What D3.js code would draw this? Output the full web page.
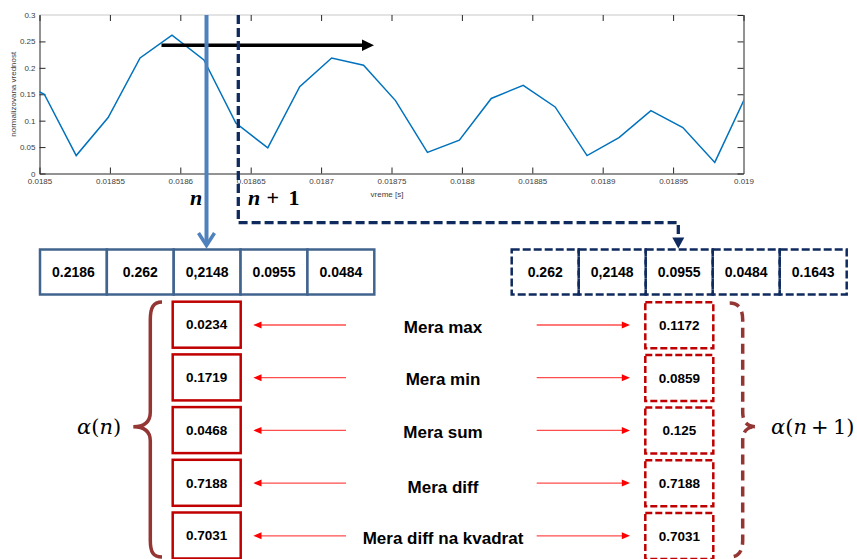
<!DOCTYPE html>
<html><head><meta charset="utf-8">
<script src="https://cdn.jsdelivr.net/npm/d3@7"></script>
<style>body{margin:0;background:#fff}svg{display:block}</style>
</head><body>
<svg id="c" width="857" height="559"></svg>
<script>
// ---- data ----
const sampleRate = 44100;
const sampleIndex = [815,816,817,818,819,820,821,822,823,824,825,826,827,828,829,830,831,832,833,834,835,836,837,838];
const sampleValue = [0.18,0.150,0.034,0.106,0.2186,0.262,0.2148,0.0955,0.0484,0.1643,0.2186,0.205,0.138,0.040,0.063,0.142,0.167,0.126,0.034,0.068,0.119,0.087,0.021,0.150];
const xTicks = [0.0185,0.01855,0.0186,0.01865,0.0187,0.01875,0.0188,0.01885,0.0189,0.01895,0.019];
const yTicks = [0,0.05,0.1,0.15,0.2,0.25,0.3];
const windowN = ["0.2186","0.262","0,2148","0.0955","0.0484"];
const windowN1 = ["0.262","0,2148","0.0955","0.0484","0.1643"];
const measures = ["Mera max","Mera min","Mera sum","Mera diff","Mera diff na kvadrat"];
const alphaN = ["0.0234","0.1719","0.0468","0.7188","0.7031"];
const alphaN1 = ["0.1172","0.0859","0.125","0.7188","0.7031"];

const svg = d3.select("#c");
const L=39.5,R=743.5,T=15,B=173.5;
const x = d3.scaleLinear().domain([0.0185,0.019]).range([L,R]);
const y = d3.scaleLinear().domain([0,0.3]).range([B,T]);
const font = "'Liberation Sans', Arial, sans-serif";
const serif = "'Liberation Serif', 'DejaVu Serif', serif";
const mathf = "'DejaVu Serif', serif";

// plot frame
svg.append("line").attr("x1",L).attr("x2",R).attr("y1",T).attr("y2",T).attr("stroke","#c8c8c8").attr("stroke-width",1);
const gx = svg.append("g").attr("transform",`translate(0,${B})`)
  .call(d3.axisBottom(x).tickValues(xTicks).tickSizeInner(-6).tickSizeOuter(0).tickPadding(5)
    .tickFormat(d=>String(+d.toFixed(5))));
const gxt = svg.append("g").attr("transform",`translate(0,${T})`)
  .call(d3.axisTop(x).tickValues(xTicks).tickSizeInner(-6).tickSizeOuter(0).tickFormat(""));
gxt.select(".domain").remove();
const gy = svg.append("g").attr("transform",`translate(${L},0)`)
  .call(d3.axisLeft(y).tickValues(yTicks).tickSizeInner(-6).tickSizeOuter(0).tickPadding(4)
    .tickFormat(d=>String(+d.toFixed(2))));
const gyr = svg.append("g").attr("transform",`translate(${R},0)`)
  .call(d3.axisRight(y).tickValues(yTicks).tickSizeInner(-6).tickSizeOuter(0).tickFormat(""));
[gx,gxt,gy,gyr].forEach(g=>{
  g.selectAll("path.domain").attr("stroke","#262626");
  g.selectAll(".tick line").attr("stroke","#262626");
  g.selectAll("text").attr("font-family",font).attr("font-size",8).attr("fill","#404040");
});
gx.selectAll(".tick:first-child line").remove();
gx.selectAll(".tick:last-child line").remove();
gy.selectAll(".tick:first-child line").remove();
gy.selectAll(".tick:last-child line").remove();

svg.append("text").attr("x",387).attr("y",197).attr("text-anchor","middle")
  .attr("font-family",font).attr("font-size",8).attr("fill","#404040").text("vreme [s]");
svg.append("text").attr("transform",`translate(16,${(T+B)/2}) rotate(-90)`).attr("text-anchor","middle")
  .attr("font-family",font).attr("font-size",8).attr("fill","#404040").text("normalizovana vrednost");

svg.append("clipPath").attr("id","clip").append("rect").attr("x",L).attr("y",T).attr("width",R-L).attr("height",B-T);
const pts = sampleIndex.map((n,i)=>[n/sampleRate, sampleValue[i]]);
svg.append("path").attr("clip-path","url(#clip)")
  .attr("d", d3.line().x(d=>x(d[0])).y(d=>y(d[1]))(pts))
  .attr("fill","none").attr("stroke","#0072bd").attr("stroke-width",1.5);

// black sliding arrow
svg.append("line").attr("x1",161.5).attr("x2",364).attr("y1",45.3).attr("y2",45.3).attr("stroke","#000").attr("stroke-width",3.5);
svg.append("path").attr("d","M362,39.5 L374,45.3 L362,51.1 Z").attr("fill","#000");

// blue solid arrow (n)
const blue="#4f81bd", navy="#0f2a5e";
svg.append("line").attr("x1",206.5).attr("x2",206.5).attr("y1",T).attr("y2",245).attr("stroke",blue).attr("stroke-width",4);
svg.append("path").attr("d","M198.5,233 L206.5,245.5 L214.5,233").attr("fill","none").attr("stroke",blue).attr("stroke-width",3.5);

// navy dashed arrow (n+1)
svg.append("path").attr("d","M238.3,15 L238.3,222.7 L678.3,222.7 L678.3,238").attr("fill","none")
  .attr("stroke",navy).attr("stroke-width",3.3).attr("stroke-dasharray","9,4");
svg.append("path").attr("d","M672.3,237.5 L684.3,237.5 L678.3,248.5 Z").attr("fill",navy);

// n labels
svg.append("text").attr("x",190).attr("y",205)
  .attr("font-family",serif).attr("font-size",22).attr("font-weight","bold").attr("font-style","italic").text("n");
const t2 = svg.append("text").attr("y",205)
  .attr("font-family",serif).attr("font-size",22).attr("font-weight","bold");
t2.append("tspan").attr("x",248).attr("font-style","italic").text("n");
t2.append("tspan").attr("x",266.5).text("+");
t2.append("tspan").attr("x",288.5).text("1");

// window rows
const bandL = d3.scaleBand().domain(d3.range(windowN.length)).range([40,374.3]);
const bandR = d3.scaleBand().domain(d3.range(windowN1.length)).range([511.7,846.7]);
const rowTop=249.5,rowH=45;
const gL = svg.append("g");
windowN.forEach((v,i)=>{
  gL.append("rect").attr("x",bandL(i)).attr("y",rowTop).attr("width",bandL.bandwidth()).attr("height",rowH)
    .attr("fill","#fff").attr("stroke","#41648f").attr("stroke-width",2.5);
  gL.append("text").attr("x",bandL(i)+bandL.bandwidth()/2).attr("y",rowTop+rowH/2+5).attr("text-anchor","middle")
    .attr("font-family",font).attr("font-weight","bold").attr("font-size",14).text(v);
});
windowN1.forEach((v,i)=>{
  gL.append("rect").attr("x",bandR(i)).attr("y",rowTop).attr("width",bandR.bandwidth()).attr("height",rowH)
    .attr("fill","none").attr("stroke",navy).attr("stroke-width",2.5).attr("stroke-dasharray","8,3");
  gL.append("text").attr("x",bandR(i)+bandR.bandwidth()/2).attr("y",rowTop+rowH/2+5).attr("text-anchor","middle")
    .attr("font-family",font).attr("font-weight","bold").attr("font-size",14).text(v);
});

// measures
const red="#c00000";
const rows = d3.scaleLinear().domain([0,1]).range([301.7,354.4]);
const boxH=46;
measures.forEach((m,i)=>{
  const top=rows(i), cy=top+boxH/2;
  svg.append("rect").attr("x",172.7).attr("y",top).attr("width",68).attr("height",boxH)
    .attr("fill","#fff").attr("stroke",red).attr("stroke-width",2.5);
  svg.append("text").attr("x",206.7).attr("y",cy+4.7).attr("text-anchor","middle")
    .attr("font-family",font).attr("font-weight","bold").attr("font-size",13.5).text(alphaN[i]);
  svg.append("rect").attr("x",645.3).attr("y",top+0.5).attr("width",68).attr("height",boxH)
    .attr("fill","none").attr("stroke",red).attr("stroke-width",2.5).attr("stroke-dasharray","7,3");
  svg.append("text").attr("x",679.3).attr("y",cy+5.2).attr("text-anchor","middle")
    .attr("font-family",font).attr("font-weight","bold").attr("font-size",13.5).text(alphaN1[i]);
  const ay = cy + 0.3;
  svg.append("line").attr("x1",346).attr("x2",260).attr("y1",ay).attr("y2",ay).attr("stroke","#ff4d4d").attr("stroke-width",1.3);
  svg.append("path").attr("d",`M253.3,${ay} L261.5,${ay-3.5} L261.5,${ay+3.5} Z`).attr("fill","#ff0000");
  svg.append("line").attr("x1",536.7).attr("x2",623).attr("y1",ay).attr("y2",ay).attr("stroke","#ff4d4d").attr("stroke-width",1.3);
  svg.append("path").attr("d",`M630,${ay} L621.8,${ay-3.5} L621.8,${ay+3.5} Z`).attr("fill","#ff0000");
  svg.append("text").attr("x",443).attr("y",cy+ (i===3?10:8)).attr("text-anchor","middle")
    .attr("font-family",font).attr("font-weight","bold").attr("font-size",17).text(m);
});

// braces
const brown="#943634";
svg.append("path").attr("d","M162,302 C153,302 150.3,308 150.3,320 L150.3,412 C150.3,422 144,426.7 133.3,426.7 C144,426.7 150.3,431 150.3,441 L150.3,540 C150.3,552 153,557 162,557")
  .attr("fill","none").attr("stroke",brown).attr("stroke-width",3.5);
svg.append("path").attr("d","M729.7,303 C738,303 742.7,308 742.7,320 L742.7,412 C742.7,422 747,426.7 756.7,426.7 C747,426.7 742.7,431 742.7,441 L742.7,540 C742.7,552 738,557 729.7,557")
  .attr("fill","none").attr("stroke",brown).attr("stroke-width",3.5).attr("stroke-dasharray","10,6");

// alpha labels
const a1 = svg.append("text").attr("x",77).attr("y",434).attr("font-family",mathf).attr("font-size",21);
a1.append("tspan").attr("font-style","italic").text("α");
a1.append("tspan").text("(");
a1.append("tspan").attr("font-style","italic").text("n");
a1.append("tspan").text(")");
const a2 = svg.append("text").attr("x",771).attr("y",434).attr("font-family",mathf).attr("font-size",21);
a2.append("tspan").attr("font-style","italic").text("α");
a2.append("tspan").text("(");
a2.append("tspan").attr("font-style","italic").text("n");
a2.append("tspan").text("\u2009+\u20091)");
</script>
</body></html>
